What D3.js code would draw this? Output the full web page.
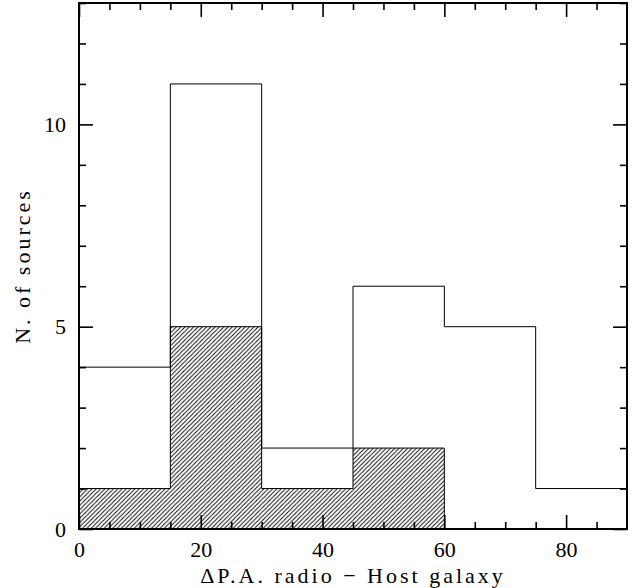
<!DOCTYPE html>
<html>
<head>
<meta charset="utf-8">
<script src="https://cdn.jsdelivr.net/npm/d3@7"></script>
<style>
  body { margin: 0; background: #fff; }
  text { font-family: "Liberation Serif", "DejaVu Serif", serif; fill: #000; }
</style>
</head>
<body>
<div id="chart"></div>
<script>
// histogram bins (degrees)
var binEdges = [0, 15, 30, 45, 60, 75, 90];
var allCounts = [4, 11, 2, 6, 5, 1];
var hatchCounts = [1, 5, 1, 2, 0, 0];

var xMajor = [0, 20, 40, 60, 80];
var xMinor = [5, 10, 15, 25, 30, 35, 45, 50, 55, 65, 70, 75, 85];
var yMajor = [0, 5, 10];
var yMinor = [1, 2, 3, 4, 6, 7, 8, 9, 11, 12, 13];

var W = 632, H = 588;
var m = {top: 3, right: 5, bottom: 59, left: 79};
var w = W - m.left - m.right;
var h = H - m.top - m.bottom;

var svg = d3.select('#chart').append('svg')
  .attr('width', W)
  .attr('height', H);

// "/" hatching, one diagonal per tile
var s = 4.3;
var defs = svg.append('defs');
var pat = defs.append('pattern')
  .attr('id', 'hatch')
  .attr('patternUnits', 'userSpaceOnUse')
  .attr('width', s)
  .attr('height', s);
pat.append('path')
  .attr('d', 'M0,' + s + 'L' + s + ',0M-1,1L1,-1M' + (s - 1) + ',' + (s + 1) + 'L' + (s + 1) + ',' + (s - 1))
  .attr('stroke', '#000')
  .attr('stroke-width', 0.9);

var g = svg.append('g')
  .attr('transform', 'translate(' + m.left + ',' + m.top + ')');

var x = d3.scaleLinear().domain([0, 90]).range([0, w]);
var y = d3.scaleLinear().domain([0, 13]).range([h, 0]);

function stepPoints(counts) {
  var pts = [[binEdges[0], 0]];
  counts.forEach(function(c, i) {
    pts.push([binEdges[i], c]);
    pts.push([binEdges[i + 1], c]);
  });
  pts.push([binEdges[binEdges.length - 1], 0]);
  return pts;
}

var line = d3.line()
  .x(function(d) { return x(d[0]); })
  .y(function(d) { return y(d[1]); });

// hatched sub-sample
g.selectAll('rect.hatch')
  .data(hatchCounts)
  .enter().append('rect')
  .attr('class', 'hatch')
  .attr('x', function(d, i) { return x(binEdges[i]); })
  .attr('width', function(d, i) { return x(binEdges[i + 1]) - x(binEdges[i]); })
  .attr('y', function(d) { return y(d); })
  .attr('height', function(d) { return y(0) - y(d); })
  .attr('fill', 'url(#hatch)');

g.append('path')
  .attr('d', line(stepPoints(hatchCounts)))
  .attr('fill', 'none')
  .attr('stroke', '#000')
  .attr('stroke-width', 1);

// full sample
g.append('path')
  .attr('d', line(stepPoints(allCounts)))
  .attr('fill', 'none')
  .attr('stroke', '#000')
  .attr('stroke-width', 1);

// ticks on all four sides
function ticks(axisFn, scale, vals, size, tr, labels) {
  var a = axisFn(scale).tickValues(vals).tickSize(-size).tickSizeOuter(0);
  if (!labels) a.tickFormat('');
  var sel = g.append('g').attr('transform', tr).call(a);
  sel.select('.domain').remove();
  sel.selectAll('line').attr('stroke', '#000').attr('stroke-width', 1.6);
  return sel;
}

ticks(d3.axisBottom, x, xMinor, 7, 'translate(0,' + h + ')', false);
var xl = ticks(d3.axisBottom, x, xMajor, 14, 'translate(0,' + h + ')', true);
xl.selectAll('text').attr('y', 12).attr('dy', '0.71em')
  .style('font-size', '22px').style('font-family', '"Liberation Serif", serif');
ticks(d3.axisTop, x, xMinor, 7, 'translate(0,0)', false);
ticks(d3.axisTop, x, xMajor, 14, 'translate(0,0)', false);

ticks(d3.axisLeft, y, yMinor, 7, 'translate(0,0)', false);
var yl = ticks(d3.axisLeft, y, yMajor, 14, 'translate(0,0)', true);
yl.selectAll('text').attr('x', -13)
  .style('font-size', '22px').style('font-family', '"Liberation Serif", serif');
ticks(d3.axisRight, y, yMinor, 7, 'translate(' + w + ',0)', false);
ticks(d3.axisRight, y, yMajor, 14, 'translate(' + w + ',0)', false);

// frame
g.append('rect')
  .attr('x', 0).attr('y', 0)
  .attr('width', w).attr('height', h)
  .attr('fill', 'none')
  .attr('stroke', '#000')
  .attr('stroke-width', 2);

// axis titles
svg.append('text')
  .attr('x', m.left + w / 2)
  .attr('y', 583)
  .attr('text-anchor', 'middle')
  .style('font-size', '22px')
  .style('letter-spacing', '3px')
  .text('\u0394P.A. radio \u2212 Host galaxy');

svg.append('text')
  .attr('transform', 'translate(30,' + (m.top + h / 2) + ') rotate(-90)')
  .attr('text-anchor', 'middle')
  .style('font-size', '22px')
  .style('letter-spacing', '3px')
  .text('N. of sources');
</script>
</body>
</html>
